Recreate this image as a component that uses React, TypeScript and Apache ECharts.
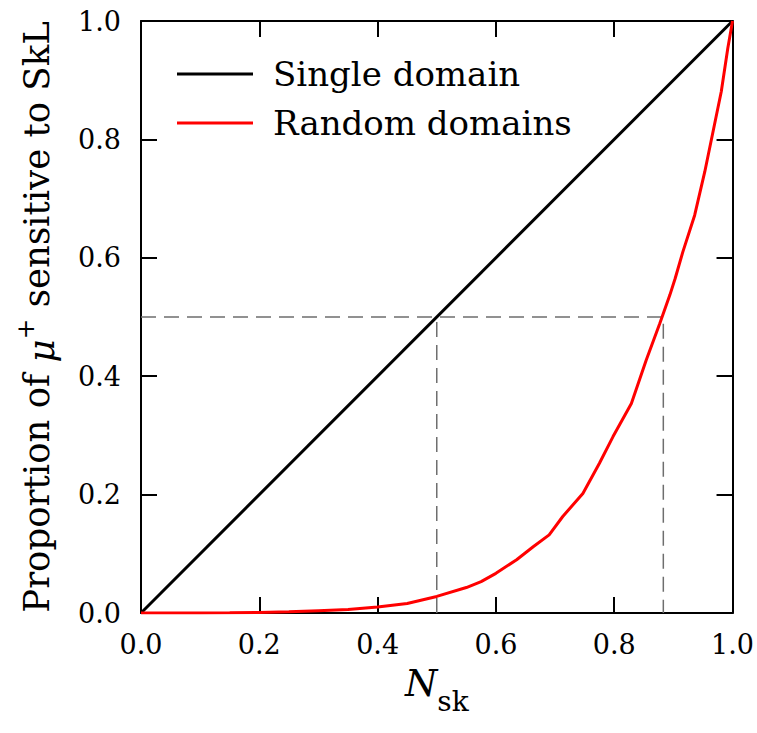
import React, { useEffect, useRef } from "react";
import * as echarts from "echarts";

const singleX = [0, 1];
const singleY = [0, 1];

const randomX = [0, 0.05, 0.1, 0.15, 0.2, 0.25, 0.3, 0.35, 0.4, 0.45, 0.5, 0.55, 0.575, 0.6, 0.635, 0.663, 0.69, 0.713, 0.747, 0.775, 0.798, 0.829, 0.854, 0.877, 0.894, 0.903, 0.916, 0.936, 0.953, 0.967, 0.981, 0.992, 1.0];
const randomY = [0, 0, 0.0002, 0.0005, 0.001, 0.002, 0.004, 0.006, 0.01, 0.016, 0.028, 0.043, 0.053, 0.067, 0.09, 0.112, 0.132, 0.163, 0.202, 0.253, 0.298, 0.354, 0.427, 0.489, 0.537, 0.565, 0.61, 0.672, 0.745, 0.813, 0.881, 0.954, 1.0];

const guideHX = [0, 0.883, 0.883];
const guideHY = [0.5, 0.5, 0];
const guideVX = [0.5, 0.5];
const guideVY = [0, 0.5];

const FONT = "DejaVu Serif";

const zip = (xs: number[], ys: number[]) => xs.map((x, i) => [x, ys[i]]);

export default function App() {
  const ref = useRef<HTMLDivElement>(null);
  useEffect(() => {
    if (!ref.current) return;
    const chart = echarts.init(ref.current, null, { renderer: "svg" });
    const axisCommon = {
      type: "value" as const,
      min: 0,
      max: 1,
      interval: 0.2,
      splitLine: { show: false },
      axisLine: { show: true, onZero: false, lineStyle: { color: "#000", width: 2 } },
      axisTick: { show: true, inside: true, length: 16, lineStyle: { color: "#000", width: 2 } },
    };
    const labelStyle = {
      fontFamily: FONT,
      fontSize: 27,
      color: "#000",
      formatter: (v: number) => v.toFixed(1),
    };
    chart.setOption({
      animation: false,
      backgroundColor: "#fff",
      textStyle: { fontFamily: FONT },
      grid: { left: 141, top: 21, width: 592, height: 592, containLabel: false },
      legend: {
        orient: "vertical",
        left: 172,
        top: 48,
        icon: "rect",
        itemWidth: 76,
        itemHeight: 3,
        itemGap: 7,
        data: ["Single domain", "Random domains"],
        textStyle: { fontFamily: FONT, fontSize: 34, color: "#000", lineHeight: 42, padding: [0, 0, 0, 15] },
      },
      xAxis: [
        {
          ...axisCommon,
          position: "bottom",
          axisLabel: { ...labelStyle, margin: 18 },
          name: "{i|N}{s|sk}",
          nameLocation: "middle",
          nameGap: 52,
          nameTextStyle: {
            fontFamily: FONT,
            rich: {
              i: { fontFamily: FONT, fontStyle: "italic", fontSize: 37, color: "#000", verticalAlign: "top", lineHeight: 50 },
              s: { fontFamily: FONT, fontSize: 28, color: "#000", verticalAlign: "bottom", lineHeight: 50 },
            },
          },
        },
        { ...axisCommon, position: "top", axisLabel: { show: false } },
      ],
      yAxis: [
        {
          ...axisCommon,
          position: "left",
          axisLabel: { ...labelStyle, margin: 20 },
          name: "Proportion of {i|μ}{p|+} sensitive to SkL",
          nameLocation: "middle",
          nameRotate: 90,
          nameGap: 82,
          nameTextStyle: {
            fontFamily: FONT,
            fontSize: 35.5,
            color: "#000",
            rich: {
              i: { fontFamily: FONT, fontStyle: "italic", fontSize: 35.5, color: "#000", verticalAlign: "bottom", lineHeight: 46 },
              p: { fontFamily: FONT, fontSize: 25, color: "#000", verticalAlign: "top", lineHeight: 46 },
            },
          },
        },
        { ...axisCommon, position: "right", axisLabel: { show: false } },
      ],
      series: [
        {
          name: "Single domain",
          type: "line",
          data: zip(singleX, singleY),
          symbol: "none",
          lineStyle: { color: "#000", width: 3 },
          itemStyle: { color: "#000" },
          z: 3,
        },
        {
          name: "Random domains",
          type: "line",
          data: zip(randomX, randomY),
          symbol: "none",
          lineStyle: { color: "#ff0000", width: 3 },
          itemStyle: { color: "#ff0000" },
          z: 4,
        },
        {
          name: "guideH",
          type: "line",
          data: zip(guideHX, guideHY),
          symbol: "none",
          lineStyle: { color: "#6e6e6e", width: 1.5, type: [15, 8] },
          z: 2,
        },
        {
          name: "guideV",
          type: "line",
          data: zip(guideVX, guideVY),
          symbol: "none",
          lineStyle: { color: "#6e6e6e", width: 1.5, type: [15, 8] },
          z: 2,
        },
      ],
    });
    return () => chart.dispose();
  }, []);
  return <div ref={ref} style={{ position: "fixed", left: 0, top: 0, width: 757, height: 733 }} />;
}
